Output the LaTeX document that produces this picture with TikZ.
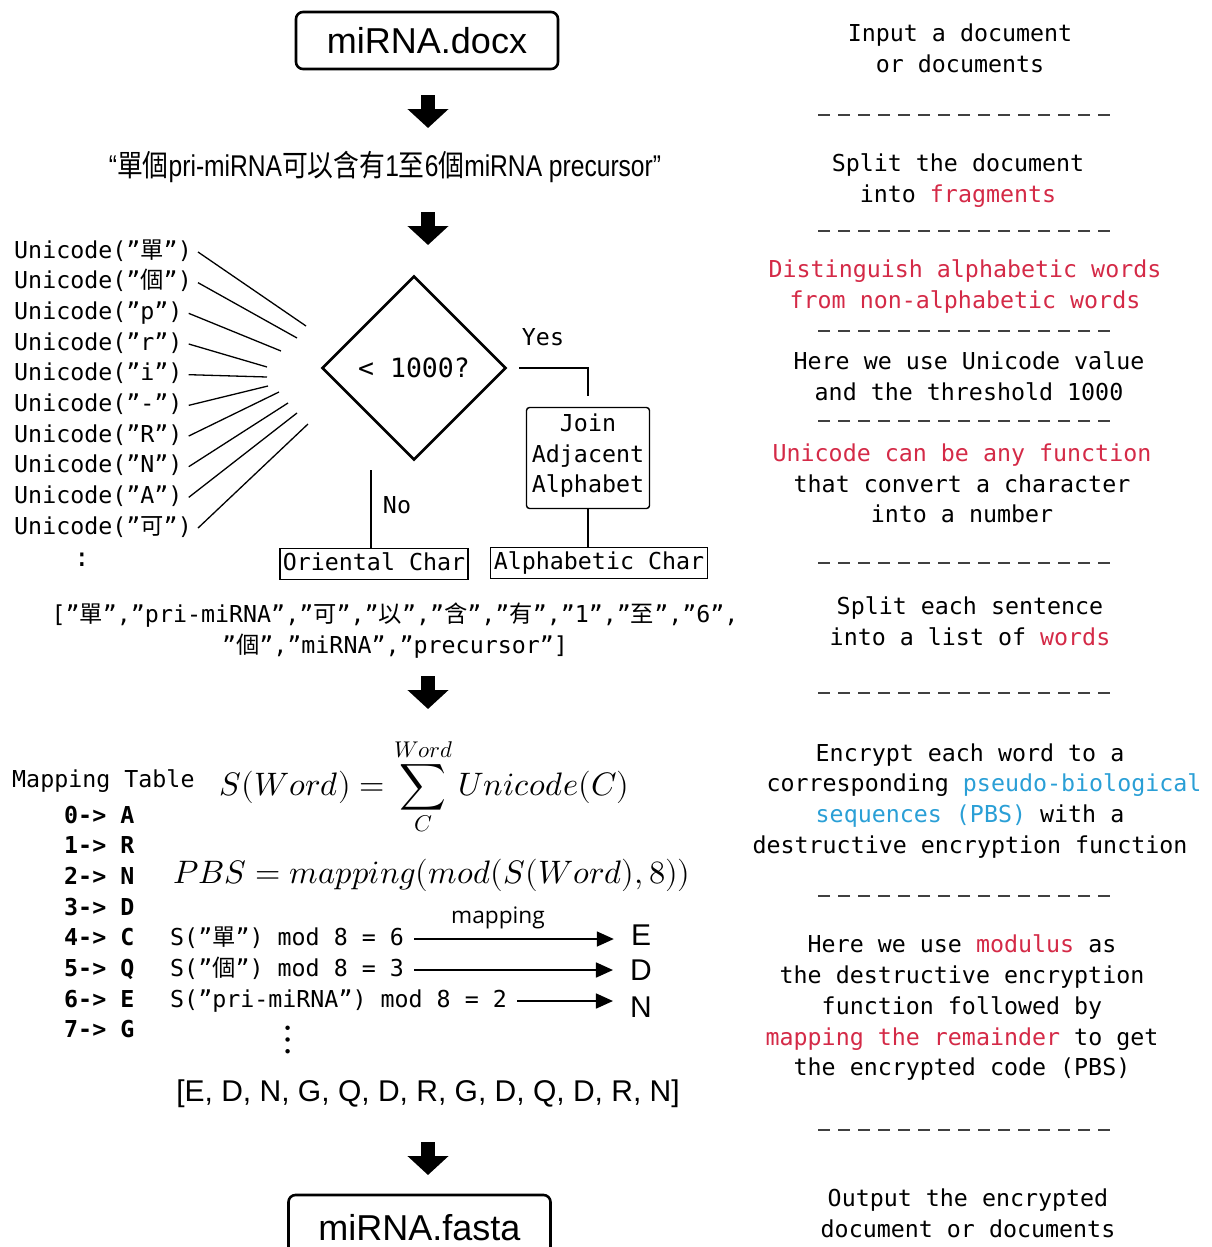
\documentclass[tikz,border=0pt]{standalone}
\usepackage{fontspec}
\usepackage{unicode-math}
\setmainfont{Liberation Sans}
\setmonofont{DejaVu Sans Mono}
\setmathfont{Latin Modern Math}
\newfontfamily\cjkfont{Noto Sans CJK TC}
\newfontfamily\narrowfont[FakeStretch=0.82]{Liberation Sans}
\newfontfamily\narrowcjk[FakeStretch=0.86]{Noto Sans CJK TC}
\newfontfamily\mapfont{Open Sans}
\usetikzlibrary{shapes.geometric,arrows.meta}
\definecolor{hlred}{HTML}{D42A47}
\definecolor{hlblue}{HTML}{2A9FD6}
\newcommand\cj[1]{{\cjkfont #1}}
\newcommand\ncj[1]{{\narrowcjk #1}}
\newcommand\monotext{\ttfamily\fontsize{23.3}{30.7}\selectfont}
\begin{document}
\begin{tikzpicture}[x=1pt,y=-1pt,
  mono/.style={font=\monotext,inner sep=0pt,execute at begin node=\strut,execute at end node=\strut},
  note/.style={mono,align=center},
  filebox/.style={draw,line width=2.6pt,rounded corners=7pt,font=\fontsize{36}{40}\selectfont,minimum width=262pt,minimum height=57pt},
  flowarrow/.style={line width=14pt,-{Triangle[length=19pt,width=40pt]}},
  charbox/.style={mono,draw,line width=1.4pt,inner xsep=3pt,minimum height=31pt},
  maparrow/.style={line width=1.6pt,-{Triangle[length=17pt,width=15pt]}},
  sepline/.style={line width=1.4pt,black!75,dash pattern=on 12pt off 8pt}]
\useasboundingbox (0,0) rectangle (1211,1247);
\node[filebox] (docx) at (427,40.5) {miRNA.docx};
\coordinate (arr1) at (428,95);
\draw[flowarrow] (arr1) -- ++(0,33);
\node[font=\narrowfont\fontsize{30}{34}\selectfont] (sent) at (385,167) {“\ncj{單個}pri-miRNA\ncj{可以含有}1\ncj{至}6\ncj{個}miRNA precursor”};
\coordinate (arr2) at (428,212);
\draw[flowarrow] (arr2) -- ++(0,33);
\node[diamond,draw,line width=2.6pt,minimum width=184pt,minimum height=184pt,inner sep=0pt,font=\ttfamily\fontsize{26.5}{30}\selectfont] (test) at (414,368) {< 1000?};
\foreach \ch/\ex/\ey [count=\i] in {\cj{單}/306/326,\cj{個}/297/338,p/281/351,r/267/367,i/267/377,-/268/386,R/279/392,N/288/403,A/297/413,\cj{可}/308/424}{
  \node[mono,anchor=west] (u\i) at (14,{250+30.67*(\i-1)+2}) {Unicode(”\ch”)};
  \coordinate (e\i) at (\ex,\ey);
  \draw[line width=1.3pt] ([xshift=6pt]u\i.east) -- (e\i);
}
\node[mono,font=\ttfamily\fontsize{26}{30}\selectfont] (udots) at (82,560) {:};
\node[mono] (yes) at (543,339) {Yes};
\node[mono] (no) at (397,507) {No};
\node[charbox,rounded corners=3pt,align=center,minimum width=123pt,minimum height=101pt] (join) at (588,458) {Join\\Adjacent\\Alphabet};
\node[charbox] (orient) at (374,564) {Oriental Char};
\node[charbox] (alpha) at (599,563) {Alphabetic Char};
\draw[line width=1.4pt] ([xshift=12pt]test.east) -| ([yshift=11pt]join.north);
\draw[line width=1.4pt] (join.south) -- (join.south |- alpha.north);
\coordinate (notop) at (371,470);
\draw[line width=1.4pt] (notop) -- (notop |- orient.north);
\node[note] (words) at (395,633) {[”\cj{單}”,”pri-miRNA”,”\cj{可}”,”\cj{以}”,”\cj{含}”,”\cj{有}”,”1”,”\cj{至}”,”6”,\\”\cj{個}”,”miRNA”,”precursor”]};
\coordinate (arr3) at (428,676);
\draw[flowarrow] (arr3) -- ++(0,33);
\node[mono,anchor=west] (maptitle) at (12,781) {Mapping Table};
\foreach \dg/\lt [count=\k from 0] in {0/A,1/R,2/N,3/D,4/C,5/Q,6/E,7/G}
  \node[mono,anchor=west,font=\monotext\bfseries] (tab\dg) at (64,{815+30.67*\k+2}) {\dg-> \lt};
\node[anchor=base,font=\fontsize{32.5}{38}\selectfont] (sumeq) at (424.5,795) {$\displaystyle S(Word)=\sum_{C}^{Word}Unicode(C)$};
\node[anchor=base,font=\fontsize{32.5}{38}\selectfont] (pbseq) at (432,883) {$PBS=mapping(mod(S(Word),8))$};
\node[mono,anchor=west] (m1) at (170,939) {S(”\cj{單}”) mod 8 = 6};
\node[mono,anchor=west] (m2) at (170,970) {S(”\cj{個}”) mod 8 = 3};
\node[mono,anchor=west] (m3) at (170,1001) {S(”pri-miRNA”) mod 8 = 2};
\node[inner sep=0pt,font=\fontsize{30}{34}\selectfont] (outE) at (641,935) {E};
\node[inner sep=0pt,font=\fontsize{30}{34}\selectfont] (outD) at (641,970) {D};
\node[inner sep=0pt,font=\fontsize{30}{34}\selectfont] (outN) at (641,1007) {N};
\draw[maparrow,shorten <=10pt,shorten >=17pt] (m1.east) -- (m1.east -| outE.west);
\draw[maparrow,shorten <=10pt,shorten >=17pt] (m2.east) -- (m2.east -| outD.west);
\draw[maparrow,shorten <=10pt,shorten >=17pt] (m3.east) -- (m3.east -| outN.west);
\node[font=\mapfont\fontsize{22.7}{26}\selectfont] (maplbl) at (498,918) {mapping};
\node[font=\fontsize{42}{46}\selectfont] (mdots) at (288,1040) {$\vdots$};
\node[font=\fontsize{30}{34}\selectfont] (pbslist) at (428,1094) {[E, D, N, G, Q, D, R, G, D, Q, D, R, N]};
\coordinate (arr4) at (428,1142);
\draw[flowarrow] (arr4) -- ++(0,33);
\node[filebox,minimum height=66pt] (fasta) at (419.5,1228) {miRNA.fasta};
\foreach \y in {115,231,331,421,563,693,896,1130}
  \draw[sepline] (818,\y) -- (1110,\y);
\node[note] (step1) at (960,53) {Input a document\\or documents};
\node[note] (step2) at (958,183) {Split the document\\into \textcolor{hlred}{fragments}};
\node[note,text=hlred] (step3) at (965,289) {Distinguish alphabetic words\\from non-alphabetic words};
\node[note] (step4) at (969,381) {Here we use Unicode value\\and the threshold 1000};
\node[note] (step5) at (962,488) {\textcolor{hlred}{Unicode can be any function}\\that convert a character\\into a number};
\node[note] (step6) at (970,626) {Split each sentence\\into a list of \textcolor{hlred}{words}};
\node[note] (step7) at (970,803) {Encrypt each word to a\\\hspace*{28pt}corresponding \textcolor{hlblue}{pseudo-biological}\\\textcolor{hlblue}{sequences (PBS)} with a\\destructive encryption function};
\node[note] (step8) at (962,1010) {Here we use \textcolor{hlred}{modulus} as\\the destructive encryption\\function followed by\\\textcolor{hlred}{mapping the remainder} to get\\the encrypted code (PBS)};
\node[note] (step9) at (968,1218) {Output the encrypted\\document or documents};
\end{tikzpicture}
\end{document}
